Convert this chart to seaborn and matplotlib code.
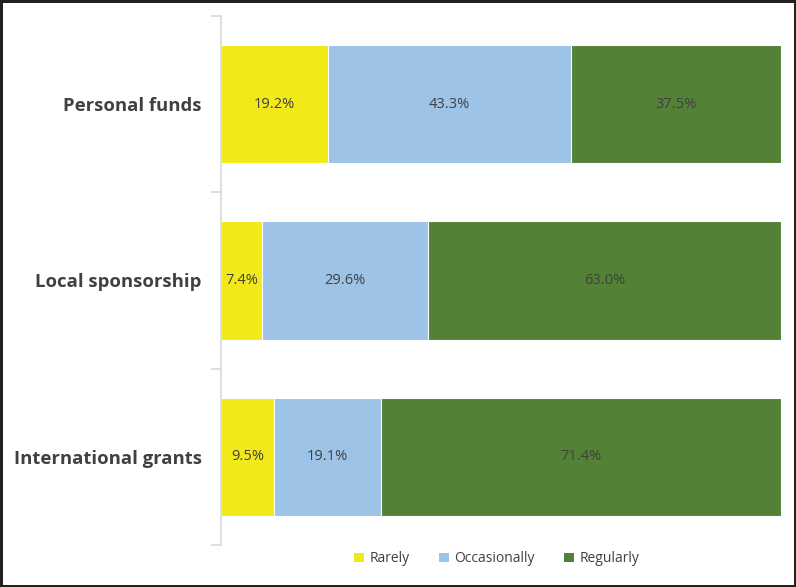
import numpy as np
import pandas as pd
import matplotlib.pyplot as plt
from matplotlib.patches import Patch
import seaborn as sns

sources = ["Personal funds", "Local sponsorship", "International grants"]
rarely = [19.2, 7.4, 9.5]
occasionally = [43.3, 29.6, 19.1]
regularly = [37.5, 63.0, 71.4]

levels = ["Rarely", "Occasionally", "Regularly"]
colors = {"Rarely": "#F2E919", "Occasionally": "#9DC3E6", "Regularly": "#538135"}

df = pd.DataFrame({"source": sources, "Rarely": rarely,
                   "Occasionally": occasionally, "Regularly": regularly})
df["cum_rare"] = df["Rarely"]
df["cum_occ"] = df["Rarely"] + df["Occasionally"]
df["cum_reg"] = df["cum_occ"] + df["Regularly"]

sns.set_style("white")
plt.rcParams["font.family"] = ["Open Sans", "DejaVu Sans"]

fig = plt.figure(figsize=(7.96, 5.87), dpi=100, linewidth=2.5, edgecolor="#231f20")
ax = fig.add_axes([0.2776, 0.0716, 0.7035, 0.9011])

# stacked bars drawn as overlaid cumulative totals
for col, lvl in [("cum_reg", "Regularly"), ("cum_occ", "Occasionally"), ("cum_rare", "Rarely")]:
    sns.barplot(data=df, x=col, y="source", order=sources, orient="h",
                color=colors[lvl], width=0.67, saturation=1,
                edgecolor="white", linewidth=0.8, ax=ax)

# segment labels
for i, row in df.iterrows():
    starts = [0, row["cum_rare"], row["cum_occ"]]
    for lvl, s in zip(levels, starts):
        v = row[lvl]
        ax.text(s + v / 2, i, f"{v:.1f}%", ha="center", va="center",
                fontsize=10.5, color="#404040")

ax.set_xlim(0, 100)
ax.set_ylim(2.5, -0.5)
ax.set_xlabel("")
ax.set_ylabel("")
ax.set_xticks([])
ax.set_yticks(range(len(sources)))
ax.set_yticklabels(sources, fontsize=13.3, fontweight="bold", color="#404040")
ax.set_yticks([-0.5, 0.5, 1.5, 2.5], minor=True)
ax.tick_params(axis="y", which="major", left=False, length=0, pad=14)
ax.tick_params(axis="y", which="minor", left=True, length=7, color="#d9d9d9", width=1.2)
for side in ["top", "right", "bottom"]:
    ax.spines[side].set_visible(False)
ax.spines["left"].set_color("#d9d9d9")
ax.spines["left"].set_linewidth(1.2)

handles = [Patch(facecolor=colors[l], edgecolor="none", label=l) for l in levels]
fig.legend(handles=handles, loc="center", bbox_to_anchor=(0.624, 0.048), ncol=3,
           frameon=False, fontsize=10, handlelength=0.7, handleheight=0.7,
           handletextpad=0.4, columnspacing=2.1, labelcolor="#404040")

fig.savefig("out.png", dpi=100, edgecolor=fig.get_edgecolor())
